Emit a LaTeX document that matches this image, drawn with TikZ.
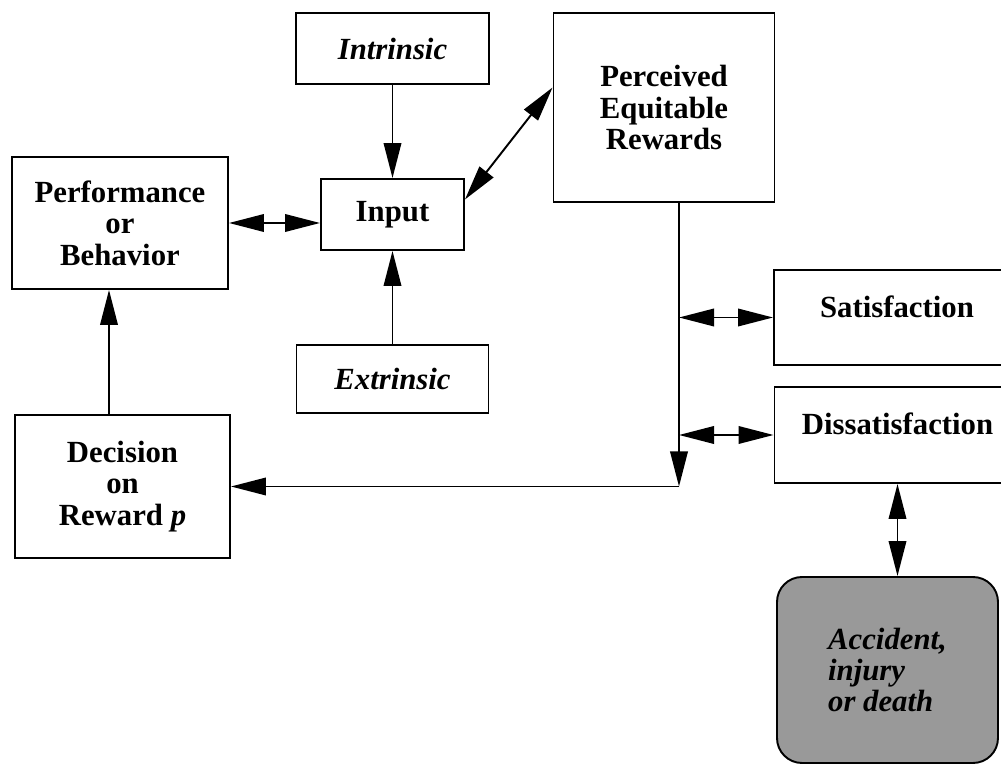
\documentclass[tikz,border=0pt]{standalone}
\usepackage{fontspec}
\setmainfont{Liberation Serif}
\usetikzlibrary{arrows.meta,positioning}

\tikzset{
    box/.style={draw, align=center, inner sep=0pt,
        font=\bfseries\fontsize{17.5}{18}\selectfont},
    hazard/.style={draw, rounded corners=0.5cm, fill=black!40, align=left, inner sep=0pt,
        font=\bfseries\itshape\fontsize{17.5}{17.5}\selectfont}
}

\begin{document}
\begin{tikzpicture}[>={Triangle[length=7mm,width=3.5mm]}, line width=1.1pt]
    \useasboundingbox (0,0) rectangle (20.02,15.32);

    \node[box, minimum width=3.86cm, minimum height=1.42cm] (intr) at (7.85,14.35) {\textit{Intrinsic}};
    \node[box, minimum width=2.86cm, minimum height=1.42cm] (inp) at (7.85,11.03) {Input};
    \node[box, minimum width=3.84cm, minimum height=1.36cm] (extr) at (7.85,7.74) {\textit{Extrinsic}};
    \node[box, minimum width=4.32cm, minimum height=2.64cm] (perf) at (2.40,10.86) {Performance\\or\\Behavior};
    \node[box, minimum width=4.30cm, minimum height=2.86cm] (dec) at (2.45,5.59) {Decision\\on\\Reward \textit{p}};
    \node[box, minimum width=4.42cm, minimum height=3.78cm] (perc) at (13.28,13.17) {Perceived\\Equitable\\Rewards};
    \node[box, minimum width=4.92cm, minimum height=1.90cm, text height=3mm, text depth=3mm] (sat) at (17.94,8.97) {Satisfaction};
    \node[box, minimum width=4.92cm, minimum height=1.92cm, text height=3mm, text depth=3mm] (dis) at (17.95,6.62) {Dissatisfaction};
    \node[hazard, minimum width=4.42cm, minimum height=3.72cm] (acc) at (17.75,1.92) {Accident,\\injury\\or death};

    % bend of the feedback line
    \coordinate (turn) at (13.58,5.59);

    \draw[->] (intr) -- (inp);
    \draw[->] (extr) -- (inp);
    \draw[<->] (perf.east) -- (perf.east -| inp.west);
    \draw[<->] ([yshift=3mm]inp.east) -- ([yshift=4mm]perc.west);
    \draw[->] (perc.south -| turn) -- (turn);
    \draw[->] (turn) -- (dec.east);
    \draw[<->] (sat.west -| turn) -- (sat.west);
    \draw[<->] (dis.west -| turn) -- (dis.west);
    \draw[<->] (dis.south) -- (dis.south |- acc.north);
    \draw[->] ([xshift=-2.7mm]dec.north) -- ([xshift=-2.7mm]dec.north |- perf.south);
\end{tikzpicture}
\end{document}
